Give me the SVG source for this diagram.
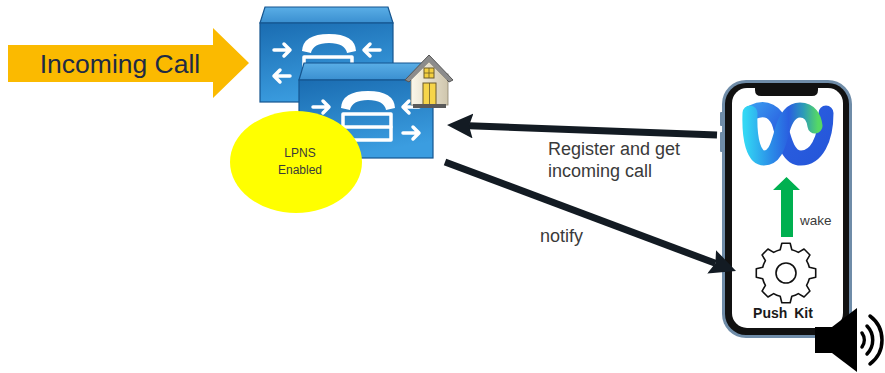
<svg xmlns="http://www.w3.org/2000/svg" xmlns:xlink="http://www.w3.org/1999/xlink" width="885" height="373" viewBox="0 0 885 373">
  <style>
    .lbl { font-family: "Liberation Sans", Arial, sans-serif; fill: #3a3a3a; }
    .conn { stroke: #131b23; stroke-width: 7; fill: none; }
    .wht { stroke: #ffffff; fill: none; stroke-width: 3.5; stroke-linecap: round; stroke-linejoin: round; }
    .ribbon { fill: none; stroke-width: 15; stroke-linecap: round; }
  </style>
  <defs>
    <linearGradient id="frontGrad" x1="0" y1="0" x2="0.3" y2="1">
      <stop offset="0" stop-color="#1a6cb1"/>
      <stop offset="1" stop-color="#3b9de0"/>
    </linearGradient>
    <linearGradient id="topGrad" x1="0" y1="0" x2="0" y2="1">
      <stop offset="0" stop-color="#5aaee6"/>
      <stop offset="1" stop-color="#3a8fd0"/>
    </linearGradient>
    <linearGradient id="wxA" gradientUnits="userSpaceOnUse" x1="745" y1="0" x2="818" y2="0">
      <stop offset="0" stop-color="#33d7f4"/>
      <stop offset="0.35" stop-color="#2b8ee8"/>
      <stop offset="0.6" stop-color="#2a5fe0"/>
      <stop offset="0.8" stop-color="#2c9bb8"/>
      <stop offset="1" stop-color="#55d865"/>
    </linearGradient>
    <linearGradient id="wxB" gradientUnits="userSpaceOnUse" x1="750" y1="105" x2="830" y2="165">
      <stop offset="0" stop-color="#3a9cf0"/>
      <stop offset="0.4" stop-color="#2a5ee0"/>
      <stop offset="1" stop-color="#2455d8"/>
    </linearGradient>
    <linearGradient id="wallGrad" x1="0" y1="0" x2="1" y2="0">
      <stop offset="0" stop-color="#fbf7ea"/>
      <stop offset="1" stop-color="#cfc6ad"/>
    </linearGradient>
    <marker id="head" markerUnits="userSpaceOnUse" markerWidth="28" markerHeight="26" refX="4" refY="12.5" orient="auto">
      <path d="M0,0 L26,12.5 L0,25 L4,12.5 Z" fill="#131b23"/>
    </marker>
    <!-- white telephony icon drawn on the front face of a call server -->
    <g id="cmIcon">
      <path d="M42,28 Q43,11 69,11 Q95,11 96,28 L87,30 Q85,20 69,20 Q53,20 51,30 Z" fill="#ffffff"/>
      <rect x="44" y="34" width="48" height="26" class="wht"/>
      <line x1="44" y1="47" x2="92" y2="47" class="wht"/>
      <path d="M14,27 H30 M24,21 L30,27 L24,33" class="wht"/>
      <path d="M120,27 H104 M110,21 L104,27 L110,33" class="wht"/>
      <path d="M30,53 H14 M20,47 L14,53 L20,59" class="wht"/>
      <path d="M104,53 H120 M114,47 L120,53 L114,59" class="wht"/>
    </g>
  </defs>

  <rect width="885" height="373" fill="#ffffff"/>

  <!-- incoming call arrow -->
  <g id="incoming-call">
    <polygon points="8,45 213,45 213,28 249,63 213,98 213,82 8,82" fill="#fbba00"/>
    <text x="120" y="73" text-anchor="middle" font-family="Liberation Sans, Arial, sans-serif" font-size="26.5" fill="#1e2b45">Incoming Call</text>
  </g>

  <!-- rear call server -->
  <g id="server-back">
    <polygon points="265,7 388,7 393,23 260,23" fill="url(#topGrad)" stroke="#15558f" stroke-width="1.2"/>
    <rect x="260" y="23" width="133" height="79" fill="url(#frontGrad)" stroke="#15558f" stroke-width="1.2"/>
    <use xlink:href="#cmIcon" transform="translate(260,23)"/>
  </g>

  <!-- front call server -->
  <g id="server-front">
    <polygon points="304,63 428,63 433,80 299,80" fill="url(#topGrad)" stroke="#15558f" stroke-width="1.2"/>
    <rect x="299" y="80" width="134" height="78" fill="url(#frontGrad)" stroke="#15558f" stroke-width="1.2"/>
    <use xlink:href="#cmIcon" transform="translate(299,80)"/>
  </g>

  <!-- home badge -->
  <g id="home">
    <rect x="411" y="74" width="37" height="31" fill="url(#wallGrad)" stroke="#8a836f" stroke-width="0.8"/>
    <polygon points="429,55 453,80 449,82 429,62 409,82 405,80" fill="#8c8c8c" stroke="#555555" stroke-width="1"/>
    <polygon points="429,62 447,80 411,80" fill="url(#wallGrad)"/>
    <rect x="424" y="68" width="10" height="10" fill="#f4d03f" stroke="#6b5a2a" stroke-width="1"/>
    <line x1="429" y1="68" x2="429" y2="78" stroke="#6b5a2a" stroke-width="0.8"/>
    <line x1="424" y1="73" x2="434" y2="73" stroke="#6b5a2a" stroke-width="0.8"/>
    <rect x="423" y="83" width="13" height="22" fill="#f6d54a" stroke="#6b5a2a" stroke-width="1"/>
    <line x1="429.5" y1="83" x2="429.5" y2="105" stroke="#6b5a2a" stroke-width="0.8"/>
    <rect x="413" y="104" width="33" height="4" fill="#5a5a5a"/>
  </g>

  <!-- LPNS badge -->
  <g id="lpns">
    <ellipse cx="296" cy="162" rx="66" ry="51" fill="#ffff00"/>
    <text x="300" y="157" text-anchor="middle" class="lbl" font-size="12">LPNS</text>
    <text x="300" y="174" text-anchor="middle" class="lbl" font-size="12">Enabled</text>
  </g>

  <!-- handset -->
  <g id="phone">
    <rect x="722" y="80" width="130" height="258" rx="24" fill="#6f8ca8"/>
    <rect x="720" y="112" width="3" height="14" rx="1" fill="#6f8ca8"/>
    <rect x="720" y="132" width="3" height="20" rx="1" fill="#6f8ca8"/>
    <rect x="725" y="83" width="124" height="252" rx="21" fill="#111111"/>
    <rect x="732" y="88" width="111" height="240" rx="15" fill="#ffffff"/>
    <path d="M755,88 L818,88 L818,90 Q818,96 812,96 L761,96 Q755,96 755,90 Z" fill="#111111"/>
    <!-- app logo: two interlaced ribbons -->
    <g id="app-logo">
      <path class="ribbon" stroke="url(#wxB)" d="M753,112 C766,106 776,112 780,125 C784,140 788,158 801,158 C816,158 826,140 826,113"/>
      <path class="ribbon" stroke="url(#wxA)" d="M750,113 C749,140 754,158 764,158 C775,158 778,145 781,135 C784,122 789,110 800,110 C810,110 814,118 815,126"/>
    </g>
    <!-- wake arrow -->
    <polygon points="786.5,177 800,190 793,190 793,237 781,237 781,190 773,190" fill="#00b050"/>
    <text x="800" y="225" class="lbl" font-size="13.5">wake</text>
    <!-- push kit gear -->
    <path transform="translate(786,273)" fill="#ffffff" stroke="#111111" stroke-width="1.6" stroke-linejoin="round"
      d="M23.29,-5.81 L29.71,-4.18 L29.71,4.18 L23.29,5.81 A24,24 0 0 1 20.57,12.36 L23.96,18.05 L18.05,23.96 L12.36,20.57 A24,24 0 0 1 5.81,23.29 L4.18,29.71 L-4.18,29.71 L-5.81,23.29 A24,24 0 0 1 -12.36,20.57 L-18.05,23.96 L-23.96,18.05 L-20.57,12.36 A24,24 0 0 1 -23.29,5.81 L-29.71,4.18 L-29.71,-4.18 L-23.29,-5.81 A24,24 0 0 1 -20.57,-12.36 L-23.96,-18.05 L-18.05,-23.96 L-12.36,-20.57 A24,24 0 0 1 -5.81,-23.29 L-4.18,-29.71 L4.18,-29.71 L5.81,-23.29 A24,24 0 0 1 12.36,-20.57 L18.05,-23.96 L23.96,-18.05 L20.57,-12.36 A24,24 0 0 1 23.29,-5.81 Z"/>
    <circle cx="786" cy="273" r="10" fill="none" stroke="#111111" stroke-width="1.6"/>
    <text x="783" y="318" text-anchor="middle" font-family="Liberation Sans, Arial, sans-serif" font-weight="bold" font-size="14" fill="#1a1a1a" word-spacing="3">Push Kit</text>
  </g>

  <!-- speaker -->
  <g id="speaker">
    <rect x="815" y="327" width="18" height="26" fill="#000000"/>
    <polygon points="832,327 857,308 857,372 832,353" fill="#000000"/>
    <g fill="none" stroke="#000000" stroke-width="3.5" stroke-linecap="round">
      <path d="M862,333 A12,12 0 0 1 862,347"/>
      <path d="M867,326 A20,20 0 0 1 867,354"/>
      <path d="M870,316 A30,30 0 0 1 870,364"/>
    </g>
  </g>

  <!-- connectors -->
  <g id="connectors">
    <line x1="717" y1="135" x2="469" y2="125.8" class="conn" marker-end="url(#head)"/>
    <line x1="445" y1="162" x2="715.4" y2="263.3" class="conn" marker-end="url(#head)"/>
    <text x="548" y="155" class="lbl" font-size="18">Register and get</text>
    <text x="548" y="177" class="lbl" font-size="18">incoming call</text>
    <text x="540" y="242" class="lbl" font-size="18">notify</text>
  </g>
</svg>
